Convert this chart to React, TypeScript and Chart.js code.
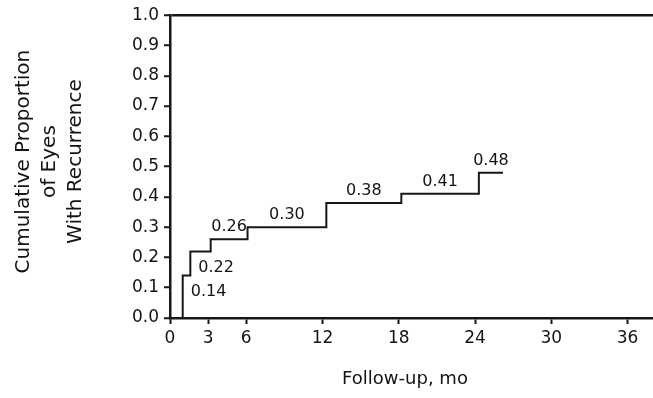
import React, { useEffect, useRef } from 'react';
import { Chart, registerables } from 'chart.js';

Chart.register(...registerables);

// Kaplan-Meier style cumulative recurrence (months, proportion)
const stepTimes = [1, 1.6, 3.2, 6.1, 12.3, 18.2, 24.3];
const stepValues = [0.14, 0.22, 0.26, 0.3, 0.38, 0.41, 0.48];
const stepLabels = ['0.14', '0.22', '0.26', '0.30', '0.38', '0.41', '0.48'];
const lastFollowUp = 26.2;
const xTicks = [0, 3, 6, 12, 18, 24, 30, 36];
const yTitleLines = ['Cumulative Proportion', 'of Eyes', 'With Recurrence'];
const xTitle = 'Follow-up, mo';
const labelsBelow = [true, true, false, false, false, false, false];

const INK = '#141816';
const TEXT = '#141414';
const FONT = "'DejaVu Sans', 'Liberation Sans', Arial, sans-serif";

const annotations = {
  id: 'annotations',
  afterDatasetsDraw(chart: any) {
    const { ctx, scales } = chart;
    const xs = scales.x;
    const ys = scales.y;
    ctx.save();
    ctx.fillStyle = TEXT;
    ctx.font = `16px ${FONT}`;
    ctx.textBaseline = 'middle';
    stepLabels.forEach((lab, i) => {
      const x0 = xs.getPixelForValue(stepTimes[i]);
      const x1 = xs.getPixelForValue(i + 1 < stepTimes.length ? stepTimes[i + 1] : lastFollowUp);
      const y = ys.getPixelForValue(stepValues[i]);
      if (labelsBelow[i]) {
        ctx.textAlign = 'left';
        ctx.fillText(lab, x0 + 8, y + 16);
      } else {
        ctx.textAlign = 'center';
        ctx.fillText(lab, (x0 + x1) / 2, y - 12);
      }
    });
    ctx.restore();
  },
  afterDraw(chart: any) {
    const { ctx, chartArea } = chart;
    ctx.save();
    ctx.fillStyle = TEXT;
    // x title
    ctx.font = `18px ${FONT}`;
    ctx.textAlign = 'center';
    ctx.textBaseline = 'middle';
    ctx.fillText(xTitle, 405, 379);
    // y title (rotated, three lines)
    ctx.font = `20px ${FONT}`;
    const cy = (chartArea.top + chartArea.bottom) / 2 - 5;
    yTitleLines.forEach((line, i) => {
      ctx.save();
      ctx.translate(24 + i * 26, cy);
      ctx.rotate(-Math.PI / 2);
      ctx.fillText(line, 0, 0);
      ctx.restore();
    });
    ctx.restore();
  },
};

export default function App() {
  const ref = useRef<HTMLCanvasElement | null>(null);
  useEffect(() => {
    if (!ref.current) return;
    const points = [
      { x: stepTimes[0], y: 0 },
      ...stepTimes.map((t, i) => ({ x: t, y: stepValues[i] })),
      { x: lastFollowUp, y: stepValues[stepValues.length - 1] },
    ];
    const chart = new Chart(ref.current, {
      type: 'line',
      data: {
        datasets: [
          {
            data: points,
            stepped: 'before',
            borderColor: INK,
            borderWidth: 2,
            pointRadius: 0,
            fill: false,
          },
        ],
      },
      options: {
        animation: false,
        responsive: false,
        devicePixelRatio: 1,
        layout: { padding: { left: 0, right: 0, top: 15, bottom: 0 } },
        plugins: { legend: { display: false }, tooltip: { enabled: false } },
        scales: {
          x: {
            type: 'linear',
            min: 0,
            max: 38,
            afterBuildTicks: (s: any) => {
              s.ticks = xTicks.map((v) => ({ value: v }));
            },
            afterFit: (s: any) => {
              s.height = 80;
            },
            ticks: {
              autoSkip: false,
              maxRotation: 0,
              padding: 4,
              color: TEXT,
              font: { family: FONT, size: 17 },
            },
            grid: {
              drawOnChartArea: false,
              drawTicks: true,
              tickLength: 6,
              tickColor: INK,
              tickWidth: 2,
            },
            border: { display: true, color: INK, width: 2.5 },
          },
          y: {
            min: 0,
            max: 1,
            afterFit: (s: any) => {
              s.width = 170;
            },
            ticks: {
              stepSize: 0.1,
              padding: 5,
              color: TEXT,
              font: { family: FONT, size: 17 },
              callback: (v: any) => Number(v).toFixed(1),
            },
            grid: {
              drawOnChartArea: true,
              color: (c: any) => (c.tick && Math.abs(c.tick.value - 1) < 1e-9 ? INK : 'rgba(0,0,0,0)'),
              lineWidth: 2.5,
              drawTicks: true,
              tickLength: 6,
              tickColor: INK,
              tickWidth: 2,
            },
            border: { display: true, color: INK, width: 2.5 },
          },
        },
      },
      plugins: [annotations],
    });
    return () => chart.destroy();
  }, []);
  return (
    <div style={{ position: 'fixed', left: 0, top: 0, width: 653, height: 398, background: '#fff' }}>
      <canvas ref={ref} width={653} height={398} style={{ display: 'block' }} />
    </div>
  );
}
